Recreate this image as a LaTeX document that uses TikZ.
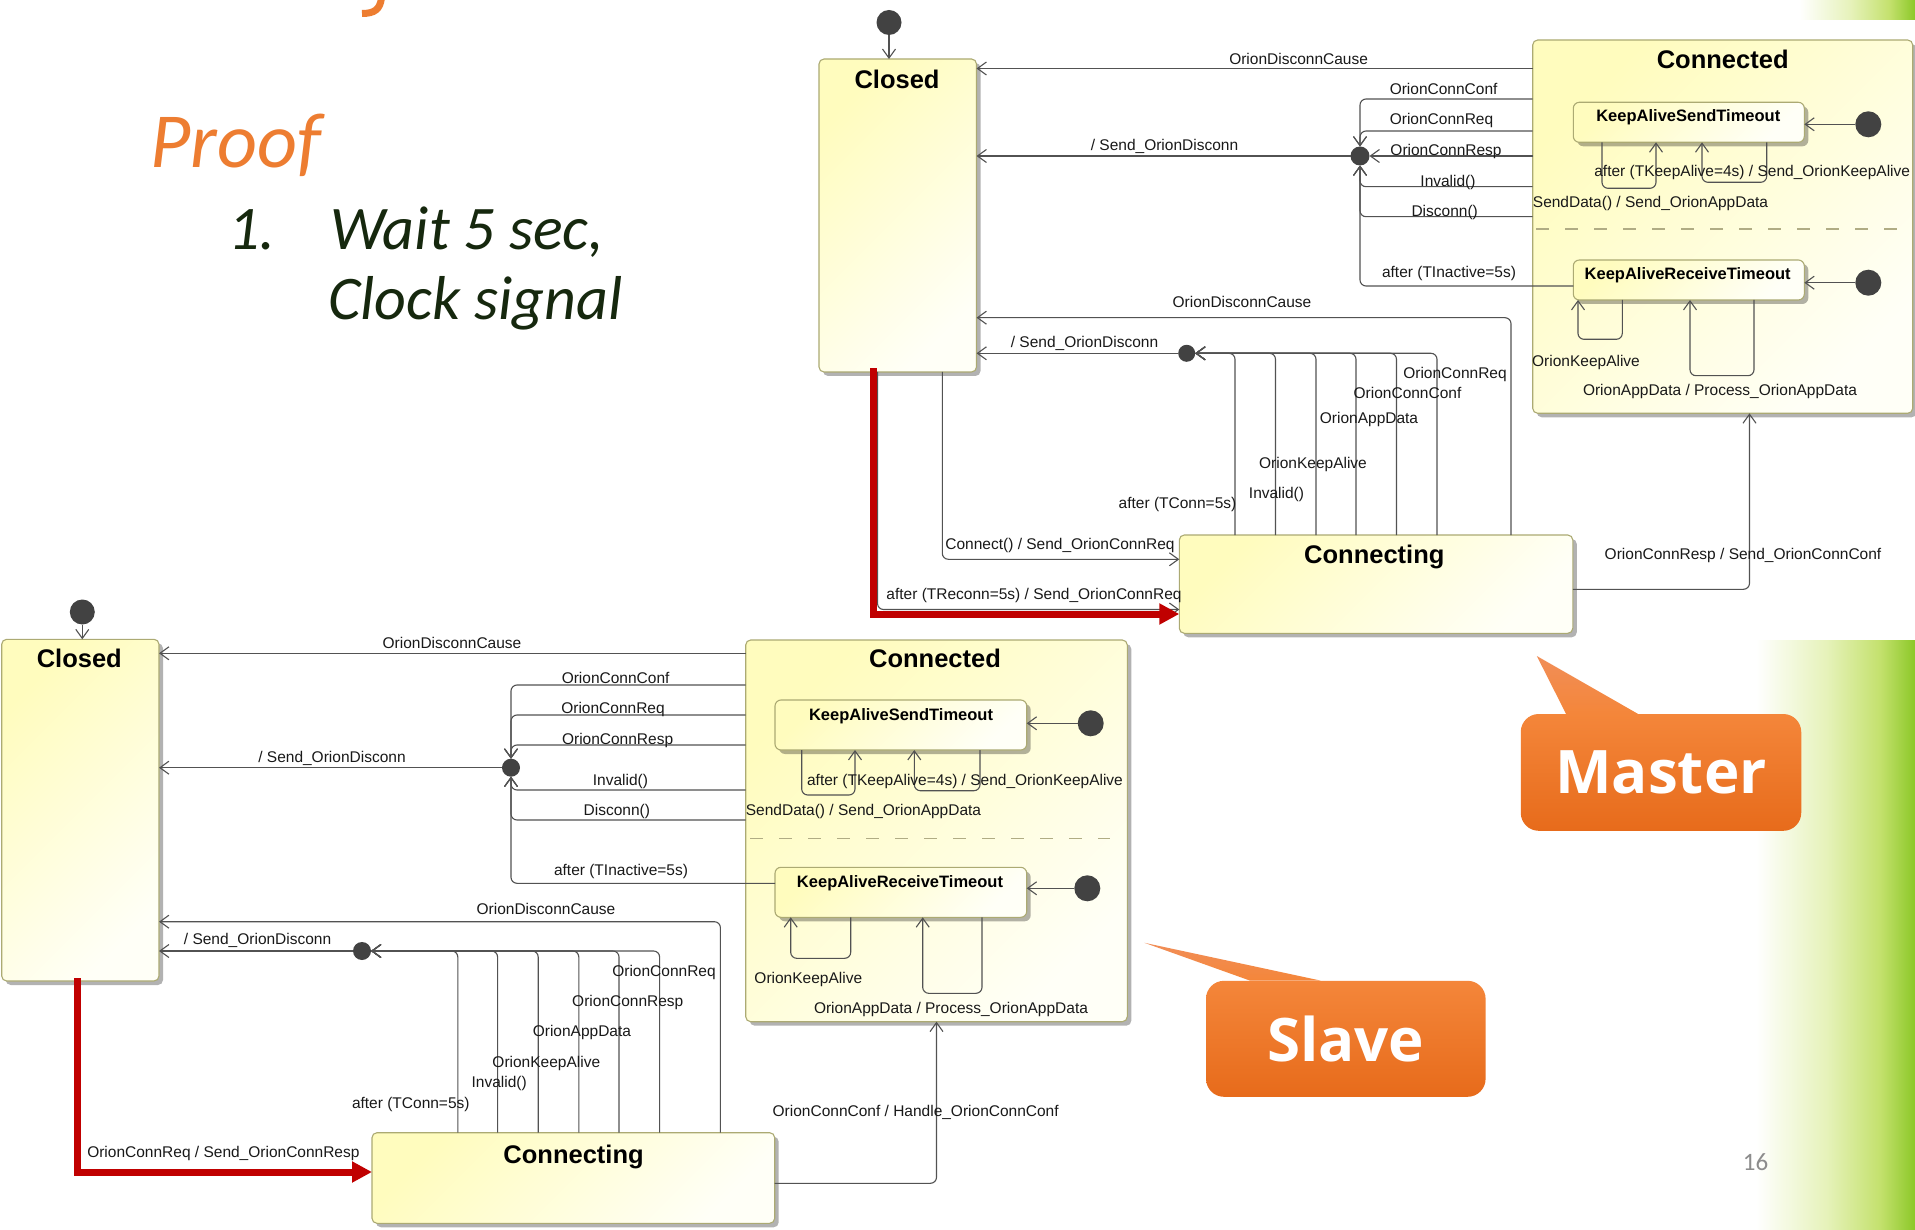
\documentclass[tikz,border=0pt]{standalone}
\usepackage{fontspec}
\setmainfont{Liberation Sans}
\newfontfamily\slidefont{Carlito}
\newfontfamily\calloutfont{Open Sans}
\usetikzlibrary{arrows.meta,shadows,calc}

\definecolor{stYellow}{RGB}{255,252,190}
\definecolor{stWhite}{RGB}{255,255,247}
\definecolor{stBorder}{RGB}{172,170,115}
\definecolor{lineGray}{RGB}{82,82,82}
\definecolor{dotGray}{RGB}{66,66,66}
\definecolor{txtDark}{RGB}{25,25,25}
\definecolor{sepTan}{RGB}{176,172,132}
\definecolor{redPath}{RGB}{192,0,0}
\definecolor{proofOrange}{RGB}{237,125,49}
\definecolor{bodyGreen}{RGB}{22,40,14}
\definecolor{calloutTop}{RGB}{244,134,58}
\definecolor{calloutBot}{RGB}{231,107,27}
\definecolor{tipLight}{RGB}{241,142,88}
\definecolor{leafLight}{RGB}{230,242,186}
\definecolor{leafMid}{RGB}{196,225,110}
\definecolor{leafDark}{RGB}{140,200,40}
\definecolor{pageGray}{RGB}{140,140,140}

% horizontal fade from white into the green leaf edge of the slide
\pgfdeclarehorizontalshading{leafedge}{100bp}{color(0bp)=(white); color(25bp)=(white); color(48bp)=(white); color(60bp)=(leafLight); color(69bp)=(leafMid); color(75bp)=(leafDark); color(100bp)=(leafDark)}

\tikzset{
  stbox/.style={draw=stBorder, line width=1.1pt, rounded corners=5pt,
    top color=stYellow, bottom color=stWhite, shading angle=45,
    drop shadow={shadow xshift=4pt, shadow yshift=-4pt, opacity=0.3, fill=black},
    anchor=north west, inner sep=0pt, outer sep=0pt},
  initdot/.style={circle, fill=dotGray, minimum size=25pt, inner sep=0pt, outer sep=0pt},
  juncdot/.style={circle, fill=dotGray, minimum size=18pt, inner sep=0pt, outer sep=0pt},
  tr/.style={draw=lineGray, line width=1.1pt, rounded corners=6pt,
    -{Straight Barb[length=9pt,width=13pt]}},
  redtr/.style={draw=redPath, line width=7pt, line cap=rect, line join=miter,
    -{Triangle[length=20pt,width=20pt]}},
  sepline/.style={draw=sepTan, line width=1.6pt, dash pattern=on 13pt off 16pt},
  lbl/.style={font=\fontsize{15.5}{18}\selectfont, text=txtDark, inner sep=0pt,
    anchor=base, yshift=-5.5pt},
  lblw/.style={lbl, anchor=base west},
  ttl/.style={font=\bfseries\fontsize{25.5}{30}\selectfont, text=black, inner sep=0pt,
    anchor=base, yshift=-9pt},
  subttl/.style={font=\bfseries\fontsize{16.5}{20}\selectfont, text=black, inner sep=0pt,
    anchor=base, yshift=-6pt},
  callout/.style={rounded corners=18pt, top color=calloutTop, bottom color=calloutBot,
    text=white, font=\calloutfont\bfseries\fontsize{60}{70}\selectfont, inner sep=0pt},
  tipfill/.style={top color=tipLight, bottom color=calloutTop},
  slidetext/.style={anchor=base west, inner sep=0pt}
}

\begin{document}
\begin{tikzpicture}[x=1pt,y=-1pt]
\useasboundingbox (0,0) rectangle (1915,1230);
\fill[white] (0,0) rectangle (1915,1230);

% green leaf decoration on the right
\shade[shading=leafedge] (1620,640) rectangle (1915,1230);
\shade[shading=leafedge] (1700,0) rectangle (1915,20);

% tail of the slide heading, cut by the top edge
\draw[proofOrange, line width=7pt] (381.5,-2) .. controls (380,9) and (375,13.5) .. (362,13.5);

% slide text
\node[slidetext, text=proofOrange, font=\slidefont\itshape\fontsize{78}{90}\selectfont] (proof) at (150,168) {Proof};
\node[slidetext, text=bodyGreen, font=\slidefont\itshape\fontsize{62}{72}\selectfont] (itemnum) at (228,250) {1.};
\node[slidetext, text=bodyGreen, font=\slidefont\itshape\fontsize{62}{72}\selectfont] (itemA) at (330,250) {Wait 5 sec,};
\node[slidetext, text=bodyGreen, font=\slidefont\itshape\fontsize{62}{72}\selectfont] (itemB) at (328,320) {Clock signal};

% ================= Master state machine =================
\node[stbox, minimum width=157.5pt, minimum height=313pt] (closedM) at (819,59) {};
\node[stbox, minimum width=380pt, minimum height=373.3pt] (connM) at (1532.7,40) {};
\node[stbox, minimum width=393.5pt, minimum height=98.3pt] (cingM) at (1179.3,535) {};
\node[stbox, rounded corners=6pt, minimum width=231pt, minimum height=40pt] (kastM) at (1573.3,102.3) {};
\node[stbox, rounded corners=6pt, minimum width=231pt, minimum height=40pt] (kartM) at (1573.3,260) {};

\node[initdot] (initM) at (889,22.5) {};
\node[initdot, minimum size=26pt] (iKASTM) at (1868.3,124.3) {};
\node[initdot, minimum size=26pt] (iKARTM) at (1868.3,282.7) {};
\node[juncdot, minimum size=19pt] (jM1) at (1360,156) {};
\node[juncdot, minimum size=17pt] (jM2) at (1186.7,353.3) {};

\draw[sepline] (connM.west |- 0,229.3) ++(3.3,0) -- (1897,229.3);

\draw[tr] (initM) -- (closedM.north -| initM);
\draw[tr] (connM.west |- 0,68.5) -- (closedM.east |- 0,68.5);
\draw[tr] (connM.west |- 0,99) -| (jM1);
\draw[tr] (connM.west |- 0,131) -| (jM1);
\draw[tr] (connM.west |- 0,156) -- (jM1);
\draw[tr] (connM.west |- 0,186.7) -| (jM1);
\draw[tr] (connM.west |- 0,216.7) -| (jM1);
\draw[tr] (kartM.west |- 0,286) -| (jM1);
\draw[tr] (jM1) -- (closedM.east |- jM1);

\draw[tr] (cingM.north -| 1511,0) |- (closedM.east |- 0,317.7);
\foreach \x in {1235,1275.5,1316,1356,1396.5,1437}
  \draw[tr] (cingM.north -| \x,0) |- (jM2);
\draw[tr] (jM2) -- (closedM.east |- jM2);
\draw[tr] (closedM.south -| 942.3,0) |- (cingM.west |- 0,559.3);
\draw[tr] (closedM.south -| 877.5,0) |- (cingM.west |- 0,609.5);
\draw[redtr] (closedM.south -| 873.5,0) |- (cingM.west |- 0,614);
\draw[tr] (cingM.east |- 0,589.3) -| (connM.south -| 1749.5,0);

\draw[tr] (iKASTM) -- (kastM.east |- iKASTM);
\draw[tr] (kastM.south -| 1602,0) |- (1656,188.3) -- (kastM.south -| 1656,0);
\draw[tr] (kastM.south -| 1766.7,0) |- (1702,182.3) -- (kastM.south -| 1702,0);
\draw[tr] (iKARTM) -- (kartM.east |- iKARTM);
\draw[tr] (kartM.south -| 1622.3,0) |- (1578,339.3) -- (kartM.south -| 1578,0);
\draw[tr] (kartM.south -| 1754,0) |- (1690,375.7) -- (kartM.south -| 1690,0);

\node[ttl] (closedMt) at (897,80) {Closed};
\node[ttl] (connMt) at (1722.7,59.3) {Connected};
\node[ttl] (cingMt) at (1374.3,554.3) {Connecting};
\node[subttl] (kastMt) at (1688.3,115.7) {KeepAliveSendTimeout};
\node[subttl] (kartMt) at (1687.7,273.7) {KeepAliveReceiveTimeout};

\node[lbl] (mL1) at (1298.6,59.3) {OrionDisconnCause};
\node[lbl] (mL2) at (1443.6,89.3) {OrionConnConf};
\node[lbl] (mL3) at (1441.5,119) {OrionConnReq};
\node[lbl] (mL4) at (1446,150) {OrionConnResp};
\node[lbl] (mL5) at (1448,181) {Invalid()};
\node[lbl] (mL6) at (1444.7,210.7) {Disconn()};
\node[lbl] (mL7) at (1449,271.7) {after (TInactive=5s)};
\node[lbl] (mL8) at (1164.5,145) {/ Send\_OrionDisconn};
\node[lbl] (mL9) at (1242,301.7) {OrionDisconnCause};
\node[lbl] (mL10) at (1084.5,341.7) {/ Send\_OrionDisconn};
\node[lbl] (mL11) at (1455,372.7) {OrionConnReq};
\node[lbl] (mL12) at (1407.5,393.3) {OrionConnConf};
\node[lbl] (mL13) at (1369,417.7) {OrionAppData};
\node[lbl] (mL14) at (1313,462.7) {OrionKeepAlive};
\node[lbl] (mL15) at (1276.5,493.3) {Invalid()};
\node[lbl] (mL16) at (1177.5,503.3) {after (TConn=5s)};
\node[lbl] (mL17) at (1060,544) {Connect() / Send\_OrionConnReq};
\node[lbl] (mL18) at (1034,594.3) {after (TReconn=5s) / Send\_OrionConnReq};
\node[lbl] (mL19) at (1743,554.3) {OrionConnResp / Send\_OrionConnConf};
\node[lbl] (mL20) at (1752.2,171) {after (TKeepAlive=4s) / Send\_OrionKeepAlive};
\node[lblw] (mL21) at (1532.7,202.3) {SendData() / Send\_OrionAppData};
\node[lbl] (mL22) at (1586,361) {OrionKeepAlive};
\node[lbl] (mL23) at (1720,390) {OrionAppData / Process\_OrionAppData};

% ================= Slave state machine =================
\node[stbox, minimum width=157.3pt, minimum height=341.7pt] (closedS) at (1.7,639.3) {};
\node[stbox, minimum width=381.6pt, minimum height=381.7pt] (connS) at (745.7,640) {};
\node[stbox, minimum width=402.7pt, minimum height=90.6pt] (cingS) at (372,1132.7) {};
\node[stbox, rounded corners=6pt, minimum width=251.7pt, minimum height=50pt] (kastS) at (775,700) {};
\node[stbox, rounded corners=6pt, minimum width=251.7pt, minimum height=50pt] (kartS) at (775,867.3) {};

\node[initdot] (initS) at (82.3,612) {};
\node[initdot, minimum size=26pt] (iKASTS) at (1090.7,723.3) {};
\node[initdot, minimum size=26pt] (iKARTS) at (1087.3,888.3) {};
\node[juncdot] (jS1) at (511,767.7) {};
\node[juncdot] (jS2) at (362,951) {};

\draw[sepline] (connS.west |- 0,838.3) ++(4.3,0) -- (1110,838.3);

\draw[tr] (initS) -- (closedS.north -| initS);
\draw[tr] (connS.west |- 0,653.3) -- (closedS.east |- 0,653.3);
\foreach \y in {685,715,745,790,820}
  \draw[tr] (connS.west |- 0,\y) -| (jS1);
\draw[tr] (kartS.west |- 0,883.3) -| (jS1);
\draw[tr] (jS1) -- (closedS.east |- jS1);

\draw[tr] (cingS.north -| 720.4,0) |- (closedS.east |- 0,921.7);
\foreach \x in {457.8,497.6,538.2,578.8,619,659.6}
  \draw[tr] (cingS.north -| \x,0) |- (jS2);
\draw[tr] (jS2) -- (closedS.east |- jS2);
\draw[redtr] (closedS.south -| 77,0) |- (cingS.west |- 0,1172);
\draw[tr] (cingS.east |- 0,1183.3) -| (connS.south -| 936.5,0);

\draw[tr] (iKASTS) -- (kastS.east |- iKASTS);
\draw[tr] (kastS.south -| 801.7,0) |- (855,795) -- (kastS.south -| 855,0);
\draw[tr] (kastS.south -| 980,0) |- (914.3,790.7) -- (kastS.south -| 914.3,0);
\draw[tr] (iKARTS) -- (kartS.east |- iKARTS);
\draw[tr] (kartS.south -| 850.7,0) |- (790.7,958.3) -- (kartS.south -| 790.7,0);
\draw[tr] (kartS.south -| 982,0) |- (922.7,993.3) -- (kartS.south -| 922.7,0);

\node[ttl] (closedSt) at (79.3,658.3) {Closed};
\node[ttl] (connSt) at (935,658.3) {Connected};
\node[ttl] (cingSt) at (573.6,1154) {Connecting};
\node[subttl] (kastSt) at (901,714) {KeepAliveSendTimeout};
\node[subttl] (kartSt) at (900,881.3) {KeepAliveReceiveTimeout};

\node[lbl] (sL1) at (452,642.6) {OrionDisconnCause};
\node[lbl] (sL2) at (615.6,678.3) {OrionConnConf};
\node[lbl] (sL3) at (613,708.3) {OrionConnReq};
\node[lbl] (sL4) at (617.6,739.3) {OrionConnResp};
\node[lbl] (sL5) at (620.4,780) {Invalid()};
\node[lbl] (sL6) at (616.8,810) {Disconn()};
\node[lbl] (sL7) at (621,870) {after (TInactive=5s)};
\node[lbl] (sL8) at (332,756.7) {/ Send\_OrionDisconn};
\node[lbl] (sL9) at (546,909.3) {OrionDisconnCause};
\node[lbl] (sL10) at (257.6,939) {/ Send\_OrionDisconn};
\node[lbl] (sL11) at (664,971) {OrionConnReq};
\node[lbl] (sL12) at (627.8,1000.7) {OrionConnResp};
\node[lbl] (sL13) at (581.9,1030.7) {OrionAppData};
\node[lbl] (sL14) at (546.3,1062.3) {OrionKeepAlive};
\node[lbl] (sL15) at (499.2,1082.3) {Invalid()};
\node[lbl] (sL16) at (410.8,1102.7) {after (TConn=5s)};
\node[lbl] (sL17) at (915.7,1111) {OrionConnConf / Handle\_OrionConnConf};
\node[lbl] (sL18) at (223.4,1152.3) {OrionConnReq / Send\_OrionConnResp};
\node[lbl] (sL19) at (965,780) {after (TKeepAlive=4s) / Send\_OrionKeepAlive};
\node[lblw] (sL20) at (745.7,810) {SendData() / Send\_OrionAppData};
\node[lbl] (sL21) at (808.3,978.3) {OrionKeepAlive};
\node[lbl] (sL22) at (951,1007.7) {OrionAppData / Process\_OrionAppData};

% ================= callouts =================
\node[callout, minimum width=280.5pt, minimum height=116.8pt] (masterC) at (1661,772.4) {Master};
\coordinate (masterTip) at (1536.8,656);
\shade[tipfill] (masterC.north -| 1566,0) -- (masterTip) -- (masterC.north -| 1637.8,0) -- cycle;

\node[callout, minimum width=279.6pt, minimum height=116pt] (slaveC) at (1345.8,1038.8) {Slave};
\coordinate (slaveTip) at (1144.4,942.8);
\shade[tipfill] (slaveC.north -| 1250,0) -- (slaveTip) -- (slaveC.north -| 1320.7,0) -- cycle;

\node[anchor=base, inner sep=0pt, text=pageGray, font=\slidefont\fontsize{25}{30}\selectfont] (pagenum) at (1755.6,1170) {16};
\end{tikzpicture}
\end{document}
